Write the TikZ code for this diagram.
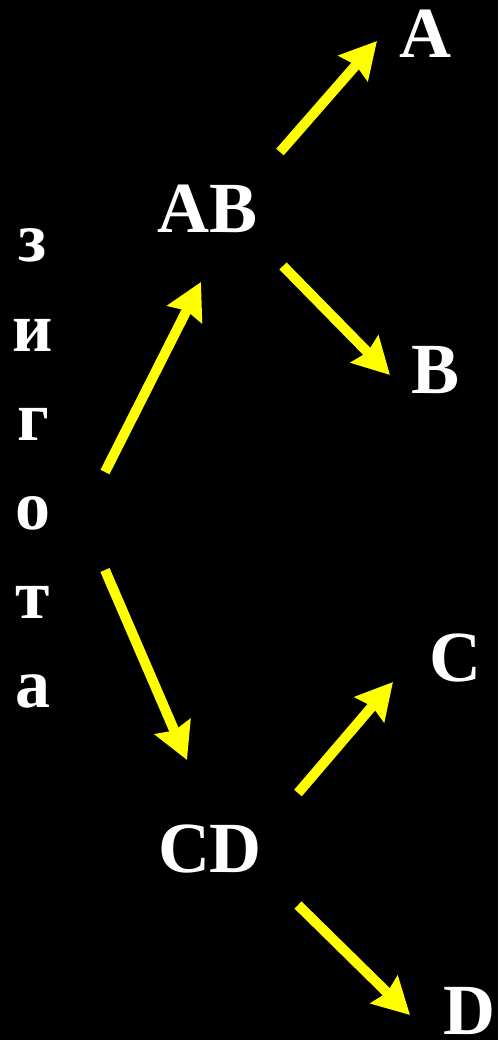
\documentclass[tikz,border=0pt]{standalone}
\usepackage{fontspec}
\setmainfont{Liberation Serif}
\usepackage{xcolor}
\usetikzlibrary{arrows.meta}
\definecolor{bg}{HTML}{000000}
\definecolor{txt}{HTML}{FFFFFF}
\definecolor{arrowYl}{HTML}{FFFF00}
\tikzset{
  cell/.style={text=txt, inner sep=0pt, anchor=base,
               font=\bfseries\fontsize{72}{80}\selectfont},
  letter/.style={cell, font=\bfseries\fontsize{70}{80}\selectfont},
  split/.style={draw=arrowYl, line width=10pt, line cap=butt,
                -{Stealth[length=36pt,width=38pt,inset=4pt]}}
}

\begin{document}
\begin{tikzpicture}[x=1pt,y=-1pt]
  \fill[bg] (0,0) rectangle (498,1040);
  \useasboundingbox (0,0) rectangle (498,1040);

  \foreach \l [count=\i] in {з,и,г,о,т,а}
    \node[letter] (zyg\i) at (33,173+89*\i) {\l};

  \node[cell] (AB) at (208,233) {AB};
  \node[cell] (CD) at (210,872) {CD};
  \node[cell] (A) at (425,58) {A};
  \node[cell] (B) at (436,393) {B};
  \node[cell] (C) at (455,681) {C};
  \node[cell] (D) at (469,1034) {D};

  \coordinate (zygUp) at (105,472);
  \coordinate (zygDn) at (105,570);
  \coordinate (abIn) at (201,282);
  \coordinate (cdIn) at (187,760);
  \coordinate (abOutA) at (280,152);
  \coordinate (abOutB) at (283,266);
  \coordinate (aIn) at (377,41);
  \coordinate (bIn) at (390,375);
  \coordinate (cdOutC) at (298,793);
  \coordinate (cdOutD) at (298,905);
  \coordinate (cIn) at (393,682);
  \coordinate (dIn) at (410,1015);

  \draw[split] (zygUp) -- (abIn);
  \draw[split] (zygDn) -- (cdIn);
  \draw[split] (abOutA) -- (aIn);
  \draw[split] (abOutB) -- (bIn);
  \draw[split] (cdOutC) -- (cIn);
  \draw[split] (cdOutD) -- (dIn);
\end{tikzpicture}
\end{document}
